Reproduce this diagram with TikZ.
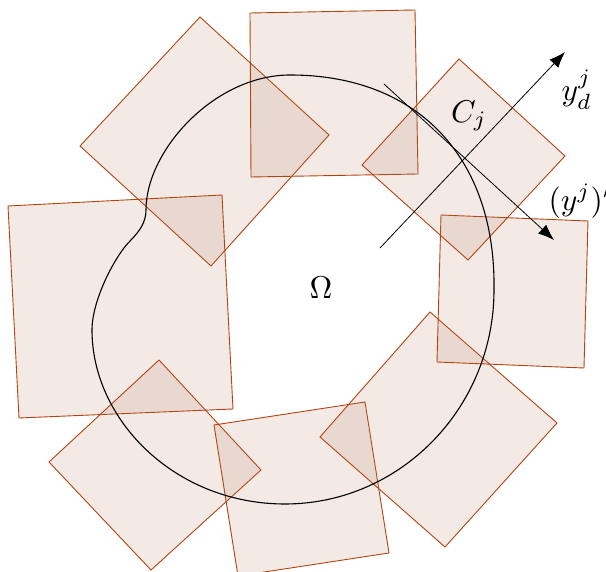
\documentclass[tikz,border=0pt]{standalone}
\usetikzlibrary{arrows.meta}
\definecolor{sqedge}{RGB}{178,68,18}
\definecolor{sqfill}{RGB}{175,115,82}
\begin{document}
\begin{tikzpicture}[x=1pt,y=-1pt,
  sq/.style={draw=sqedge,line width=0.9pt,fill=sqfill,fill opacity=0.15,line join=miter},
  bdry/.style={draw=black,line width=1.1pt},
  axis/.style={draw=black,line width=0.8pt,-{Latex[length=16pt,width=12pt]}},
  lbl/.style={inner sep=0pt,scale=3.15}]
\useasboundingbox (0,0) rectangle (606,572);
\fill[white] (0,0) rectangle (606,572);
% squares
\draw[sq] (200,17) -- (329,135) -- (211,266) -- (80,146) -- cycle;
\draw[sq] (250,13) -- (415,10) -- (418,174) -- (251,177) -- cycle;
\draw[sq] (8,206) -- (222,195) -- (233,409) -- (19,418) -- cycle;
\draw[sq] (159,360) -- (261,470) -- (151,570) -- (49,462) -- cycle;
\draw[sq] (214,425) -- (365,402) -- (389,553) -- (238,576) -- cycle;
\draw[sq] (430,312) -- (557,423) -- (445,547) -- (320,437) -- cycle;
\draw[sq] (441,215) -- (588,221) -- (584,368) -- (437,362) -- cycle;
\draw[sq] (459,59) -- (565,156) -- (468,260) -- (362,165) -- cycle;
% boundary of Omega
\draw[bdry] (290,75) .. controls (420,75) and (496,160) .. (494,290)
  .. controls (494,408) and (400,504) .. (285,504)
  .. controls (175,504) and (92,420) .. (92,330)
  .. controls (92,300) and (115,256) .. (130,241)
  .. controls (140,231) and (146,222) .. (146,210)
  .. controls (146,150) and (215,75) .. cycle;
% axes
\coordinate (a1s) at (380,248);
\coordinate (a1e) at (565,52);
\coordinate (a2s) at (384,84);
\coordinate (a2e) at (554,240);
\draw[axis] (a1s) -- (a1e);
\draw[axis] (a2s) -- (a2e);
% labels
\node[lbl] (cj) at (469,116) {$C_j$};
\node[lbl,anchor=west] (yd) at (561,90) {$y^j_d$};
\node[lbl,anchor=west] (yp) at (548,201) {$(y^j)'$};
\node[lbl] (om) at (321,288) {$\Omega$};
\end{tikzpicture}
\end{document}
